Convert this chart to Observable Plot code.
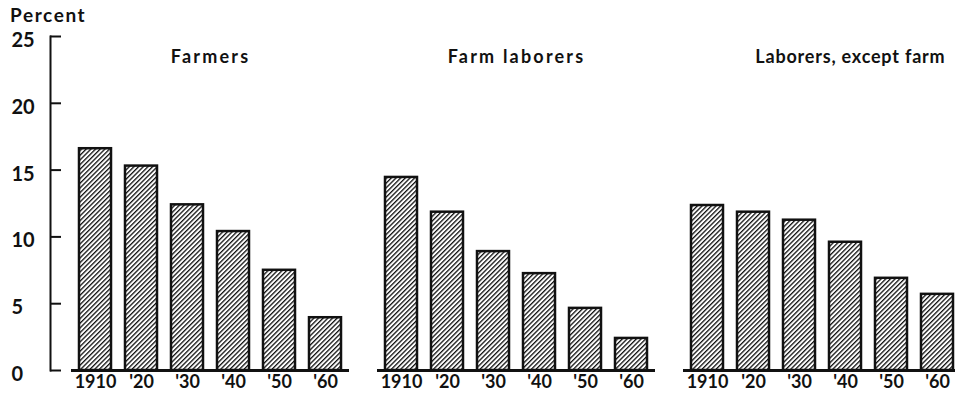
<!DOCTYPE html>
<html><head><meta charset="utf-8">
<script src="https://cdn.jsdelivr.net/npm/d3@7"></script>
<script src="https://cdn.jsdelivr.net/npm/@observablehq/plot@0.6"></script>
<style>
html,body{margin:0;padding:0;background:#fff;overflow:hidden;}
#wrap{position:relative;width:955px;height:405px;overflow:hidden;}
#wrap svg{max-width:none !important;}
#ylabel{position:absolute;left:10px;top:5px;line-height:1;font-family:Lato,"Open Sans",sans-serif;font-size:19px;letter-spacing:1.6px;color:#111;font-weight:700;}
#wrap svg text{font-weight:700;}
</style></head>
<body>
<svg width="0" height="0" style="position:absolute">
  <defs>
    <pattern id="hatch" patternUnits="userSpaceOnUse" width="3.3" height="10" patternTransform="rotate(45)">
      <rect x="0" y="0" width="1.3" height="10" fill="#111"></rect>
    </pattern>
  </defs>
</svg>
<div id="wrap"><div id="ylabel">Percent</div></div>
<script>
const categories = ["Farmers", "Farm laborers", "Laborers, except farm"];
const years = ["1910", "'20", "'30", "'40", "'50", "'60"];
const farmers = [16.6, 15.3, 12.4, 10.4, 7.5, 3.95];
const farmLaborers = [14.45, 11.85, 8.9, 7.25, 4.65, 2.4];
const laborersExceptFarm = [12.35, 11.85, 11.25, 9.6, 6.9, 5.7];
const yTicks = [0, 5, 10, 15, 20, 25];

const series = [farmers, farmLaborers, laborersExceptFarm];
const data = categories.flatMap((c, i) => series[i].map((v, j) => ({cat: c, year: years[j], value: v})));

const font = "Lato, 'Open Sans', sans-serif";
const ink = "#111";

const chart = Plot.plot({
  width: 962,
  height: 405,
  marginTop: 36,
  marginBottom: 35,
  marginLeft: 70,
  marginRight: 0,
  style: {fontFamily: font, color: ink, background: "transparent", maxWidth: "none", overflow: "visible"},
  fx: {domain: categories, paddingInner: 0.092, paddingOuter: 0, axis: null},
  x: {domain: years, paddingInner: 0.3, paddingOuter: 0.15},
  y: {domain: [0, 25]},
  marks: [
    Plot.frame({anchor: "left", facetAnchor: "left", dx: -21, stroke: ink, strokeWidth: 2}),
    Plot.axisY(yTicks, {tickSize: -11, dx: -21, fill: "none", stroke: ink, strokeWidth: 2, label: null}),
    Plot.axisY(yTicks, {tickSize: 0, tickPadding: 0, dx: -60, dy: 4, textAnchor: "start", fontSize: 20, fill: ink, label: null}),
    Plot.barY(data, {fx: "cat", x: "year", y: "value", fill: "url(#hatch)", stroke: ink, strokeWidth: 2.5}),
    Plot.ruleY([0], {stroke: ink, strokeWidth: 3}),
    Plot.axisX({tickSize: 0, tickPadding: 5, fontSize: 18, fill: ink, label: null}),
    Plot.text(categories.slice(0, 2), {fx: d => d, text: d => d, frameAnchor: "top", dy: 14, fontSize: 18, fill: ink}),
    Plot.text(categories.slice(2), {fx: d => d, text: d => d, frameAnchor: "top-right", textAnchor: "end", dy: 14, dx: -16, fontSize: 18, fill: ink})
  ]
});
const textGroups = chart.querySelectorAll('g[aria-label="text"]');
if (textGroups[0]) textGroups[0].style.letterSpacing = "2.2px";
if (textGroups[1]) textGroups[1].style.letterSpacing = "0.8px";
document.getElementById("wrap").appendChild(chart);
</script>
</body></html>
